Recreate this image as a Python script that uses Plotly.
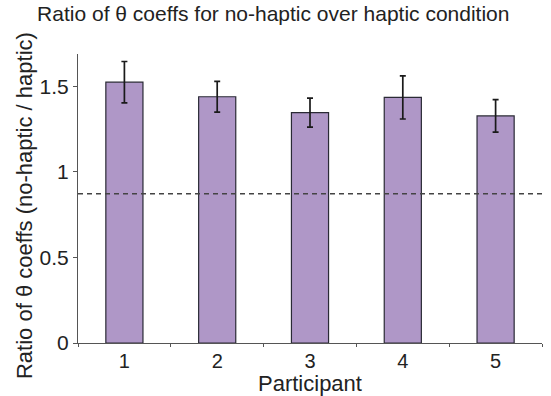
import plotly.graph_objects as go

# Per-participant ratio of theta coefficients (no-haptic / haptic)
participants = ["1", "2", "3", "4", "5"]
ratio_mean = [1.525, 1.440, 1.347, 1.436, 1.328]
ratio_err = [0.121, 0.090, 0.085, 0.126, 0.095]
reference_level = 0.873

tick_vals = [0, 0.5, 1, 1.5]
tick_text = ["0", "0.5", "1", "1.5"]

font_family = "Liberation Sans, Arial, sans-serif"
text_color = "#222222"
axis_color = "#555555"

fig = go.Figure()
fig.add_trace(go.Bar(
    x=participants,
    y=ratio_mean,
    width=0.4,
    marker=dict(color="#AF97C7", line=dict(color="#2a2a35", width=1.2)),
    error_y=dict(type="data", array=ratio_err, visible=True,
                 color="#1a1a1a", thickness=1.7, width=3),
    showlegend=False,
))

# Dashed reference line across the full plot width
fig.add_shape(type="line", xref="paper", yref="y",
              x0=0, x1=1, y0=reference_level, y1=reference_level,
              line=dict(color="#444444", width=1.5, dash="5px,4px"))

# Vertical axis title placed as a rotated annotation
fig.add_annotation(
    text="Ratio of θ coeffs (no-haptic / haptic)",
    xref="paper", yref="paper", x=0, y=0.474,
    xanchor="center", yanchor="middle", xshift=-54,
    textangle=-90, showarrow=False,
    font=dict(size=22, color=text_color),
)

fig.update_layout(
    width=551, height=396,
    margin=dict(l=78, r=9, t=54, b=53),
    paper_bgcolor="white", plot_bgcolor="white",
    font=dict(family=font_family, color=text_color),
    title=dict(text="Ratio of θ coeffs for no-haptic over haptic condition",
               x=0.496, xanchor="center", y=0.965, yanchor="middle",
               font=dict(size=21, color=text_color)),
    bargap=0.6,
)
fig.update_xaxes(
    type="category",
    showline=True, linecolor=axis_color, linewidth=1.2,
    ticks="outside", ticklen=3, tickcolor=axis_color, tickson="boundaries",
    tickfont=dict(size=20, color=text_color),
    title=dict(text="Participant", font=dict(size=22, color=text_color), standoff=0),
    showgrid=False, zeroline=False,
)
fig.update_yaxes(
    range=[0, 1.69],
    tickvals=tick_vals, ticktext=tick_text,
    showline=True, linecolor=axis_color, linewidth=1.2,
    ticks="outside", ticklen=4, tickcolor=axis_color,
    tickfont=dict(size=21, color=text_color),
    showgrid=False, zeroline=False,
)

fig.write_html("out.html")
